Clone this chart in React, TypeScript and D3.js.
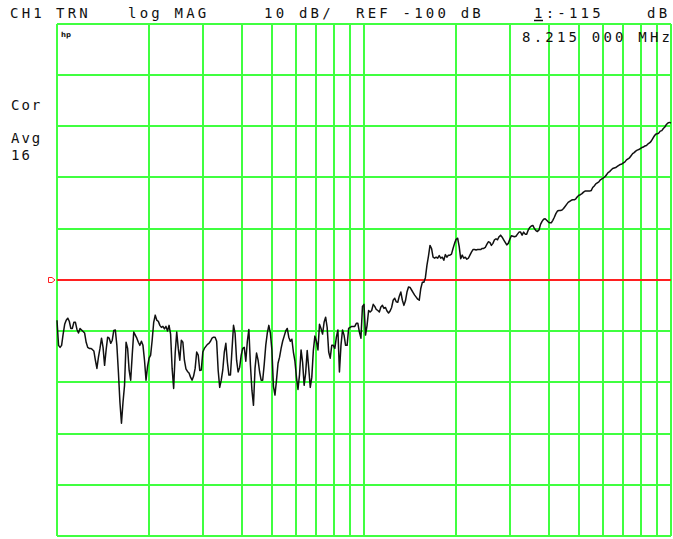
import React, { useEffect, useRef } from 'react';
import * as d3 from 'd3';

// analyzer settings (log sweep, 401 points)
const startMHz = 1;
const stopMHz = 100;
const refDb = -100;
const dbPerDiv = 10;

const gridFreqsMHz = [1, 2, 3, 4, 5, 6, 7, 8, 9, 10, 20, 30, 40, 50, 60, 70, 80, 90, 100];

const headerTexts = ['CH1', 'TRN', 'log MAG', '10 dB/', 'REF -100 dB', '1:-115', 'dB'];
const markerText = '8.215 000 MHz';
const sideTexts = ['Cor', 'Avg', '16'];

// trace magnitude in dB
const traceDb = [
  -107.9, -112.8, -113.2, -112.8, -110.6, -108.7, -107.9, -107.5, -108.1, -109.5, -109.5, -108.3, -108.3, -109.7, -110.4, -109.5, -109.8, -110.1, -110.4, -112.2,
  -113.2, -113.4, -113.4, -113.6, -113.9, -115.7, -117.3, -115.1, -113.4, -111.4, -113.2, -116.7, -113.7, -111.2, -111.4, -112.4, -111.8, -109.9, -109.8, -112.8,
  -118.0, -123.9, -128.0, -123.9, -120.6, -112.2, -113.4, -117.7, -119.6, -114.7, -110.2, -110.8, -111.4, -112.2, -112.8, -112.0, -112.8, -115.7, -119.6, -116.9,
  -115.3, -114.7, -111.8, -108.3, -106.9, -107.9, -108.1, -108.9, -109.3, -109.1, -109.6, -109.1, -110.0, -108.9, -110.6, -117.3, -121.2, -114.3, -110.2, -113.4,
  -115.7, -111.8, -112.2, -115.7, -117.4, -117.9, -118.2, -119.0, -119.6, -118.8, -117.3, -114.1, -114.7, -117.7, -117.6, -114.1, -113.4, -113.0, -112.6, -112.4,
  -112.0, -111.4, -111.2, -111.2, -112.0, -117.7, -121.0, -119.6, -117.6, -114.1, -112.4, -116.1, -118.6, -118.6, -113.7, -108.9, -110.4, -115.7, -118.0, -117.1,
  -114.7, -113.4, -113.2, -115.9, -112.0, -109.7, -116.6, -121.6, -124.5, -117.3, -114.3, -115.7, -118.0, -119.6, -119.6, -116.5, -112.8, -110.4, -108.9, -110.4,
  -113.7, -120.8, -122.5, -119.6, -116.3, -115.1, -113.4, -112.0, -111.0, -110.0, -109.5, -111.2, -112.0, -111.6, -114.1, -115.9, -119.0, -121.4, -118.5, -113.7,
  -116.1, -120.6, -118.2, -113.8, -117.3, -121.0, -119.0, -113.8, -111.0, -112.0, -113.7, -108.7, -109.5, -110.6, -108.3, -107.3, -109.3, -114.1, -115.3, -112.8,
  -112.8, -113.4, -111.2, -109.8, -118.0, -112.8, -109.8, -110.8, -112.8, -112.8, -109.5, -109.3, -109.1, -109.1, -109.1, -108.5, -108.5, -110.2, -111.4, -105.2,
  -104.8, -110.8, -108.9, -106.0, -106.3, -106.0, -104.8, -105.2, -105.8, -106.0, -106.3, -105.3, -105.0, -105.6, -105.4, -106.1, -106.5, -106.1, -105.4, -104.0,
  -103.6, -104.3, -104.4, -103.2, -102.4, -104.0, -105.0, -104.1, -102.4, -101.4, -101.5, -102.0, -102.5, -103.0, -103.4, -103.8, -104.0, -101.7, -100.5, -100.5,
  -99.6, -97.2, -95.4, -93.3, -93.9, -95.6, -95.8, -95.6, -95.8, -95.3, -95.8, -95.6, -96.2, -95.1, -95.6, -95.2, -95.2, -95.0, -93.9, -92.9,
  -92.1, -91.9, -93.5, -95.9, -95.2, -95.8, -95.6, -96.0, -95.8, -95.2, -94.6, -94.1, -94.1, -94.2, -94.1, -94.1, -94.1, -93.9, -93.9, -93.7,
  -93.1, -92.6, -92.7, -93.3, -92.9, -92.2, -92.0, -92.2, -91.6, -91.3, -91.7, -92.2, -92.7, -93.2, -92.9, -92.1, -91.4, -91.5, -91.6, -91.5,
  -91.1, -90.7, -90.7, -91.3, -90.7, -91.1, -91.1, -90.3, -89.8, -89.5, -89.4, -90.0, -90.4, -90.6, -90.3, -89.2, -88.6, -88.2, -88.1, -88.4,
  -88.7, -88.9, -88.9, -88.4, -87.8, -87.1, -86.6, -86.5, -86.5, -86.4, -86.1, -85.7, -85.3, -84.9, -84.7, -84.5, -84.4, -84.4, -84.2, -83.8,
  -83.5, -83.4, -83.2, -82.9, -82.7, -82.7, -82.7, -82.7, -82.6, -82.0, -81.7, -81.3, -81.1, -80.9, -80.5, -80.3, -80.1, -79.9, -79.5, -79.1,
  -78.9, -78.6, -78.3, -78.2, -78.1, -77.9, -77.7, -77.5, -77.4, -77.2, -77.0, -76.6, -76.4, -76.2, -75.8, -75.4, -75.2, -74.9, -74.7, -74.6,
  -74.4, -74.2, -74.1, -73.9, -73.8, -73.5, -73.3, -73.0, -72.5, -72.0, -71.6, -71.5, -71.4, -71.0, -70.9, -70.5, -70.2, -69.7, -69.4, -69.3,
  -69.4,
];

const App: React.FC = () => {
  const ref = useRef<SVGSVGElement>(null);

  useEffect(() => {
    drawChart();
  }, []);

  const drawChart = () => {
    const svg = d3.select(ref.current);
    svg.selectAll('*').remove();

    const left = 57, right = 671, top = 23.5, bottom = 536;
    const green = '#40ff40';
    const red = '#ff2020';
    const font = "'DejaVu Sans Mono', monospace";

    const x = d3.scaleLog().domain([startMHz, stopMHz]).range([left, right]);
    const y = d3.scaleLinear()
      .domain([refDb - 5 * dbPerDiv, refDb + 5 * dbPerDiv])
      .range([bottom, top]);

    // frequency of each sweep point (log sweep)
    const n = traceDb.length;
    const freqs = d3.range(n).map(i => startMHz * Math.pow(stopMHz / startMHz, i / (n - 1)));

    const grid = svg.append('g')
      .attr('stroke', green)
      .attr('stroke-width', 2)
      .attr('shape-rendering', 'crispEdges');

    grid.selectAll('.vline')
      .data(gridFreqsMHz)
      .enter().append('line')
      .attr('x1', d => Math.round(x(d))).attr('x2', d => Math.round(x(d)))
      .attr('y1', Math.round(top)).attr('y2', Math.round(bottom));

    // horizontal divisions (the one at REF is covered by the red line)
    grid.selectAll('.hline')
      .data(d3.range(11).map(k => refDb + 5 * dbPerDiv - k * dbPerDiv).filter(d => d !== refDb))
      .enter().append('line')
      .attr('x1', Math.round(left)).attr('x2', Math.round(right))
      .attr('y1', d => Math.round(y(d))).attr('y2', d => Math.round(y(d)));

    // reference line + marker flag
    const ry = Math.round(y(refDb));
    svg.append('line')
      .attr('x1', left).attr('x2', right)
      .attr('y1', ry).attr('y2', ry)
      .attr('stroke', red).attr('stroke-width', 1.6)
      .attr('shape-rendering', 'crispEdges');

    svg.append('path')
      .attr('d', `M48.5,${ry - 2.5} L52,${ry - 2.5} L55,${ry} L52,${ry + 2.5} L48.5,${ry + 2.5} Z`)
      .attr('fill', 'none').attr('stroke', red).attr('stroke-width', 1);

    // trace
    const line = d3.line<number>()
      .x((d, i) => x(freqs[i]))
      .y(d => y(d));

    svg.append('path')
      .datum(traceDb)
      .attr('d', line)
      .attr('fill', 'none')
      .attr('stroke', '#111')
      .attr('stroke-width', 1.5)
      .attr('stroke-linejoin', 'round');

    // header
    const headerX = [10, 56, 128, 264, 356, 534, 647];
    svg.selectAll('.hdr')
      .data(headerTexts)
      .enter().append('text')
      .attr('x', (d, i) => headerX[i])
      .attr('y', 18)
      .attr('font-family', font)
      .attr('font-size', 14)
      .attr('letter-spacing', 3.2)
      .attr('fill', '#111')
      .style('white-space', 'pre')
      .text(d => d);

    // underline the marker number
    svg.append('line')
      .attr('x1', 534).attr('x2', 543)
      .attr('y1', 20.5).attr('y2', 20.5)
      .attr('stroke', '#111').attr('stroke-width', 1.5);

    svg.append('text')
      .attr('x', 522).attr('y', 42)
      .attr('font-family', font)
      .attr('font-size', 14)
      .attr('letter-spacing', 3.2)
      .attr('fill', '#111')
      .style('white-space', 'pre')
      .text(markerText);

    const sideY = [110, 143, 160];
    svg.selectAll('.side')
      .data(sideTexts)
      .enter().append('text')
      .attr('x', 11)
      .attr('y', (d, i) => sideY[i])
      .attr('font-family', font)
      .attr('font-size', 14)
      .attr('letter-spacing', 2)
      .attr('fill', '#111')
      .text(d => d);

    svg.append('text')
      .attr('x', 61).attr('y', 37)
      .attr('font-family', "'DejaVu Sans', sans-serif")
      .attr('font-size', 7)
      .attr('font-weight', 'bold')
      .attr('fill', '#111')
      .text('hp');
  };

  return (
    <svg
      ref={ref}
      width={673}
      height={539}
      style={{ position: 'absolute', left: 0, top: 0, background: '#fff' }}
    />
  );
};

export default App;
